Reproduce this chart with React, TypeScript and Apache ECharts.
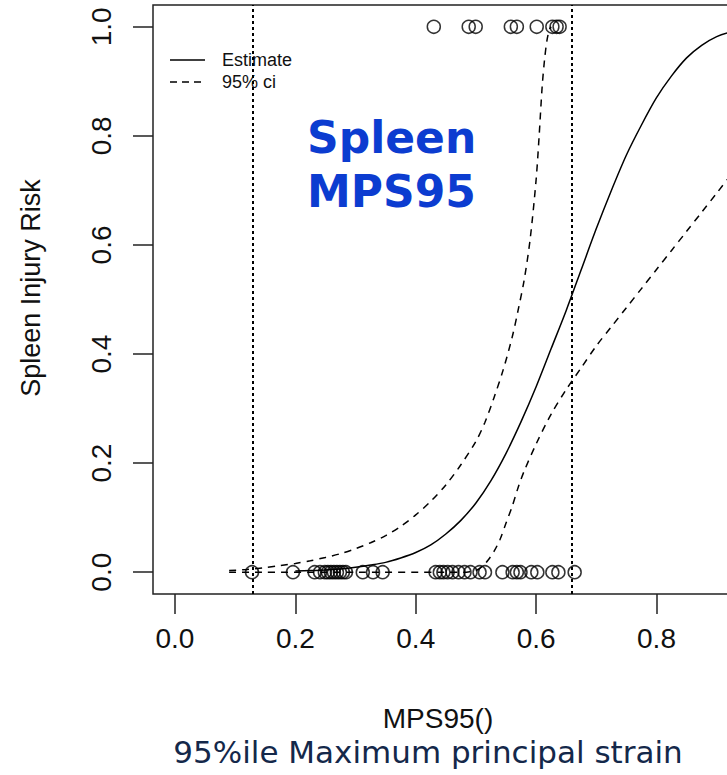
import React, { useEffect, useRef } from "react";
import * as echarts from "echarts";

// Observed data points (binary outcome)
const injuredX = [0.43, 0.488, 0.4996, 0.558, 0.568, 0.601, 0.627, 0.634, 0.639];
const uninjuredX = [
  0.128, 0.196, 0.232, 0.241, 0.249, 0.254, 0.259, 0.264, 0.269, 0.274, 0.279, 0.284,
  0.312, 0.329, 0.345, 0.433, 0.44, 0.446, 0.453, 0.461, 0.471, 0.481, 0.491, 0.506,
  0.515, 0.544, 0.561, 0.568, 0.574, 0.592, 0.602, 0.627, 0.637, 0.664,
];

// Estimated risk curve
const estimateX = [0.2, 0.225, 0.25, 0.275, 0.3, 0.325, 0.35, 0.375, 0.4, 0.425, 0.45, 0.475, 0.5, 0.525, 0.55, 0.575, 0.6, 0.625, 0.65, 0.675, 0.7, 0.725, 0.75, 0.775, 0.8, 0.825, 0.85, 0.875, 0.9, 0.925, 0.95];
const estimateY = [0.002, 0.003, 0.004, 0.006, 0.009, 0.013, 0.018, 0.026, 0.036, 0.05, 0.07, 0.095, 0.127, 0.168, 0.218, 0.276, 0.34, 0.41, 0.48, 0.555, 0.63, 0.7, 0.765, 0.82, 0.87, 0.91, 0.943, 0.966, 0.982, 0.991, 0.996];

// Upper 95% CI
const upperX = [0.09, 0.12, 0.146, 0.175, 0.2, 0.225, 0.25, 0.275, 0.3, 0.325, 0.35, 0.375, 0.4, 0.425, 0.45, 0.475, 0.5, 0.515, 0.53, 0.545, 0.56, 0.57, 0.58, 0.59, 0.6, 0.605, 0.61, 0.614, 0.618, 0.622, 0.625];
const upperY = [0.003, 0.005, 0.008, 0.012, 0.016, 0.021, 0.027, 0.034, 0.043, 0.054, 0.067, 0.084, 0.105, 0.13, 0.16, 0.197, 0.24, 0.275, 0.32, 0.37, 0.43, 0.48, 0.535, 0.61, 0.72, 0.8, 0.89, 0.94, 0.975, 0.995, 1.0];

// Lower 95% CI
const lowerX = [0.09, 0.3, 0.45, 0.48, 0.49, 0.5, 0.51, 0.52, 0.53, 0.54, 0.55, 0.56, 0.57, 0.58, 0.6, 0.625, 0.65, 0.675, 0.7, 0.725, 0.75, 0.775, 0.8, 0.825, 0.85, 0.875, 0.9, 0.925, 0.95];
const lowerY = [0, 0, 0, 0, 0.001, 0.003, 0.01, 0.022, 0.038, 0.06, 0.09, 0.12, 0.155, 0.185, 0.235, 0.29, 0.335, 0.375, 0.415, 0.45, 0.485, 0.52, 0.555, 0.59, 0.625, 0.66, 0.695, 0.73, 0.76];

// Vertical reference lines (data range)
const refLines = [0.128, 0.664];

const xTicks = [0, 0.2, 0.4, 0.6, 0.8];
const yTicks = [0, 0.2, 0.4, 0.6, 0.8, 1.0];

const FONT = "'Liberation Sans', Arial, sans-serif";

export default function App() {
  const ref = useRef<HTMLDivElement>(null);
  useEffect(() => {
    if (!ref.current) return;
    const chart = echarts.init(ref.current, null, { renderer: "svg" });
    const zip = (xs: number[], ys: number[]) => xs.map((x, i) => [x, ys[i]]);
    const lineBase = {
      type: "line",
      smooth: 0.3,
      showSymbol: false,
      z: 3,
    };
    chart.setOption({
      animation: false,
      backgroundColor: "#ffffff",
      grid: {
        left: 153,
        top: 5,
        width: 592,
        height: 589,
        show: true,
        borderColor: "#222",
        borderWidth: 1.5,
        backgroundColor: "transparent",
      },
      xAxis: {
        type: "value",
        min: -0.0365,
        max: 0.947,
        splitLine: { show: false },
        axisLine: { show: false, onZero: false },
        axisTick: {
          show: true,
          customValues: xTicks,
          length: 20,
          lineStyle: { color: "#222", width: 1.5 },
        },
        axisLabel: {
          customValues: xTicks,
          formatter: (v: number) => v.toFixed(1),
          fontFamily: FONT,
          fontSize: 28,
          color: "#111",
          margin: 30,
        },
      },
      yAxis: {
        type: "value",
        min: -0.04,
        max: 1.04,
        splitLine: { show: false },
        axisLine: { show: false, onZero: false },
        axisTick: {
          show: true,
          customValues: yTicks,
          length: 20,
          lineStyle: { color: "#222", width: 1.5 },
        },
        axisLabel: {
          customValues: yTicks,
          formatter: (v: number) => v.toFixed(1),
          fontFamily: FONT,
          fontSize: 28,
          color: "#111",
          rotate: 90,
          margin: 38,
        },
      },
      series: [
        {
          ...lineBase,
          name: "Estimate",
          data: zip(estimateX, estimateY),
          lineStyle: { color: "#000", width: 1.5, type: "solid" },
        },
        {
          ...lineBase,
          name: "upper",
          data: zip(upperX, upperY),
          lineStyle: { color: "#000", width: 1.5, type: [7, 6] },
        },
        {
          ...lineBase,
          name: "lower",
          data: zip(lowerX, lowerY),
          lineStyle: { color: "#000", width: 1.5, type: [7, 6] },
          markLine: {
            silent: true,
            symbol: "none",
            label: { show: false },
            lineStyle: { color: "#000", width: 2, type: [3, 3] },
            data: refLines.map((x) => ({ xAxis: x })),
          },
        },
        {
          type: "scatter",
          data: injuredX.map((x) => [x, 1]),
          symbol: "circle",
          symbolSize: 13,
          itemStyle: { color: "rgba(0,0,0,0)", borderColor: "#000", borderWidth: 1.5 },
          z: 4,
        },
        {
          type: "scatter",
          data: uninjuredX.map((x) => [x, 0]),
          symbol: "circle",
          symbolSize: 13,
          itemStyle: { color: "rgba(0,0,0,0)", borderColor: "#000", borderWidth: 1.5 },
          z: 4,
        },
      ],
      graphic: [
        { type: "line", shape: { x1: 170, y1: 60, x2: 205, y2: 60 }, style: { stroke: "#000", lineWidth: 1.5 } },
        { type: "line", shape: { x1: 170, y1: 82, x2: 205, y2: 82 }, style: { stroke: "#000", lineWidth: 1.5, lineDash: [7, 5] } },
        { type: "text", x: 222, y: 60, style: { text: "Estimate", font: `18px ${FONT}`, fill: "#111", verticalAlign: "middle" } },
        { type: "text", x: 222, y: 82, style: { text: "95% ci", font: `18px ${FONT}`, fill: "#111", verticalAlign: "middle" } },
        {
          type: "text",
          x: 307,
          y: 137,
          style: { text: "Spleen", font: `bold 44px 'DejaVu Sans', Verdana, sans-serif`, fill: "#0c3cd0", verticalAlign: "middle" },
        },
        {
          type: "text",
          x: 307,
          y: 191,
          style: { text: "MPS95", font: `bold 44px 'DejaVu Sans', Verdana, sans-serif`, fill: "#0c3cd0", verticalAlign: "middle" },
        },
        {
          type: "text",
          x: 31,
          y: 288,
          rotation: Math.PI / 2,
          style: { text: "Spleen Injury Risk", font: `27px ${FONT}`, fill: "#111", align: "center", verticalAlign: "middle" },
        },
        {
          type: "text",
          x: 438,
          y: 718,
          style: { text: "MPS95()", font: `28px ${FONT}`, fill: "#111", align: "center", verticalAlign: "middle" },
        },
        {
          type: "text",
          x: 428,
          y: 752,
          style: { text: "95%ile Maximum principal strain", font: `31px 'DejaVu Sans', Verdana, sans-serif`, fill: "#14284a", align: "center", verticalAlign: "middle" },
        },
      ],
    });
    return () => chart.dispose();
  }, []);
  return (
    <div style={{ position: "fixed", left: 0, top: 0, width: 727, height: 775, overflow: "hidden", background: "#fff" }}>
      <div ref={ref} style={{ position: "absolute", left: 0, top: 0, width: 760, height: 775 }} />
    </div>
  );
}
